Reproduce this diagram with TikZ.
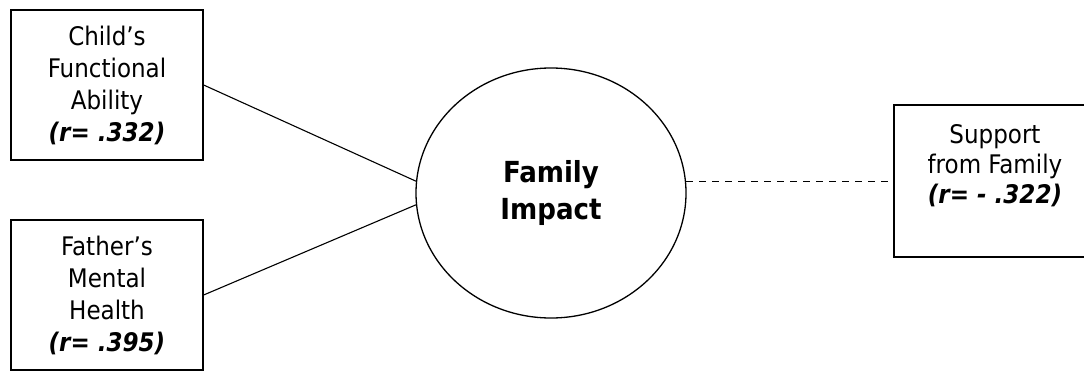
\documentclass[tikz,border=0pt]{standalone}
\usepackage{fontspec}
\setmainfont{DejaVu Sans Condensed}
\usepackage{tikz}
\usetikzlibrary{shapes.geometric}

\begin{document}
\begin{tikzpicture}[x=1pt,y=-1pt,
  factor/.style={draw,line width=1.3pt,minimum width=192pt,minimum height=150pt,
    align=center,inner sep=0pt,font=\fontsize{25.6}{32}\selectfont},
  outcome/.style={draw,ellipse,line width=1.3pt,minimum width=270pt,minimum height=250pt,
    align=center,inner sep=0pt,font=\fontsize{29}{37}\selectfont\bfseries},
  link/.style={line width=1.1pt}
]
  \useasboundingbox (0,0) rectangle (1084,372);
  \node[factor] (child) at (107,85) {Child’s\\Functional\\Ability\\\textbf{\textit{(r= .332)}}};
  \node[factor] (father) at (107,295) {Father’s\\Mental\\Health\\\textbf{\textit{(r= .395)}}};
  \node[outcome] (impact) at (551,193) {Family\\Impact};
  \node[factor,minimum width=202pt,minimum height=152pt] (support) at (995,181) {};
  \node[align=center,inner sep=0pt,font=\fontsize{25.6}{30}\selectfont] (supporttext) at (995,166)
    {Support\\from Family\\\textbf{\textit{(r= - .322)}}};
  \draw[link] (child.east) -- (impact.175);
  \draw[link] (father.east) -- (impact.185);
  \draw[link,line width=1.3pt,dash pattern=on 7pt off 6pt] (impact.5) -- (impact.5 -| support.west);
\end{tikzpicture}
\end{document}
